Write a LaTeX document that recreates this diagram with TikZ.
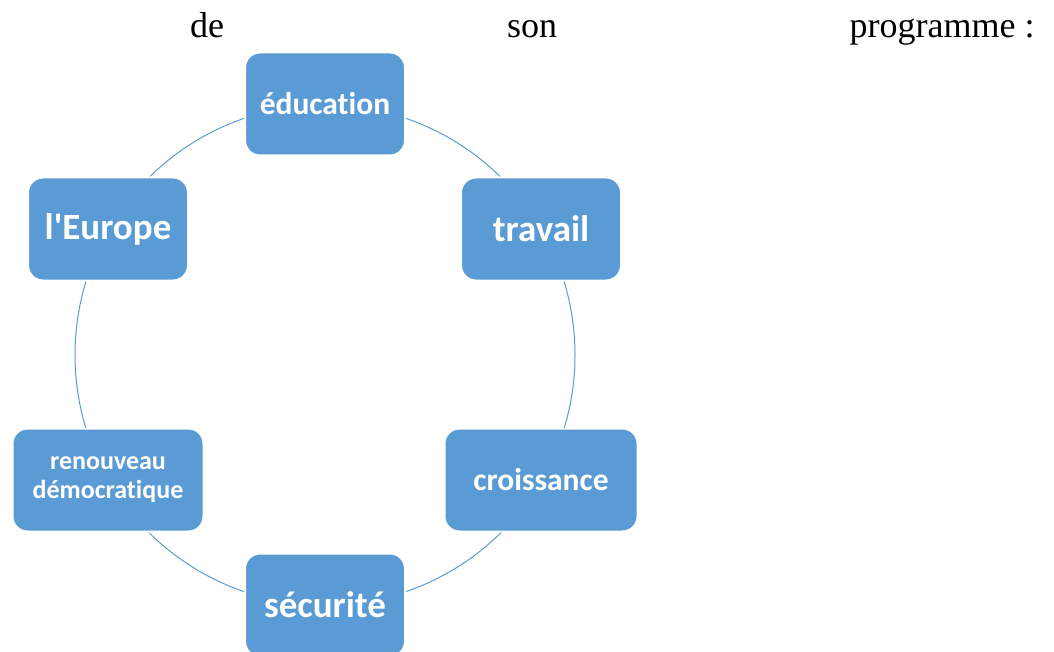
\documentclass[tikz,border=0pt]{standalone}
\usepackage{fontspec}
\setmainfont{Liberation Serif}
\newfontfamily\boxfont[Ligatures={NoCommon,NoRare}]{Carlito}
\definecolor{boxblue}{HTML}{5B9BD5}
\tikzset{
  pbox/.style={rectangle, rounded corners=15pt, fill=boxblue, draw=white, line width=2pt,
    minimum width=160pt, minimum height=103pt, text=white, align=center, inner sep=0pt,
    font=\boxfont\bfseries},
  toptext/.style={anchor=base, font=\fontsize{36}{40}\selectfont, inner sep=0pt},
  ring/.style={draw=boxblue, line width=1pt}
}
\begin{document}
\begin{tikzpicture}[x=1pt,y=-1pt]
\useasboundingbox (0,0) rectangle (1054,652);
\clip (0,0) rectangle (1054,652);
\node[toptext] (w1) at (207,38) {de};
\node[toptext] (w2) at (532,38) {son};
\node[toptext] (w3) at (942,38) {programme :};
\coordinate (c) at (325,355);
\draw[ring] (c) circle [radius=250pt];
\node[pbox, font=\boxfont\bfseries\fontsize{31.5}{34}\selectfont] (edu) at (325,104) {éducation};
\node[pbox, font=\boxfont\bfseries\fontsize{37}{40}\selectfont] (trav) at (541,229) {travail};
\node[pbox, minimum width=193pt, font=\boxfont\bfseries\fontsize{31.5}{34}\selectfont] (croi) at (541,480) {croissance};
\node[pbox, font=\boxfont\bfseries\fontsize{37}{40}\selectfont] (secu) at (325,605) {sécurité};
\node[pbox, minimum width=191pt, font=\boxfont\bfseries\fontsize{26}{29}\selectfont] (reno) at (108,480) {renouveau\\démocratique};
\node[pbox, font=\boxfont\bfseries\fontsize{37}{40}\selectfont] (euro) at (108,229) {l'Europe};
\end{tikzpicture}
\end{document}
